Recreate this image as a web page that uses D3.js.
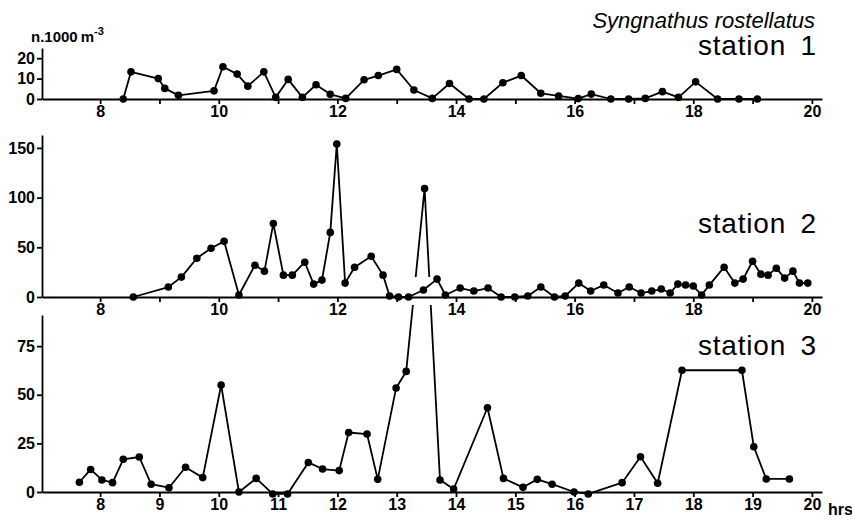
<!DOCTYPE html>
<html>
<head>
<meta charset="utf-8">
<script src="https://cdn.jsdelivr.net/npm/d3@7/dist/d3.min.js"></script>
<style>
  body { margin: 0; background: #fff; }
  svg { display: block; }
  .tick text { font-family: "Liberation Sans", Arial, sans-serif; font-weight: bold; font-size: 16px; fill: #000; }
  .tick line, .domain { stroke: #000; stroke-width: 1.8px; }
  .lbl { font-family: "Liberation Sans", Arial, sans-serif; fill: #000; }
</style>
</head>
<body>
<div id="vis"></div>
<script>
// hours of sampling and catches (n per 1000 m3)
const hours1 = [8.39, 8.52, 8.98, 9.09, 9.32, 9.92, 10.07, 10.31, 10.49, 10.76, 10.96, 11.17, 11.41, 11.64, 11.88, 12.14, 12.45, 12.69, 13.0, 13.29, 13.6, 13.89, 14.22, 14.47, 14.79, 15.1, 15.43, 15.73, 16.06, 16.28, 16.61, 16.91, 17.19, 17.48, 17.75, 18.04, 18.41, 18.77, 19.08];
const values1 = [0, 13.3, 10, 5.2, 1.8, 4, 15.8, 12.2, 6.3, 13.3, 0.8, 9.6, 0.8, 7, 2.3, 0.3, 9.4, 11.5, 14.5, 4.4, 0.3, 7.6, 0, 0, 8, 11.5, 2.8, 1.5, 0.2, 2.4, 0, 0, 0.3, 3.6, 0.8, 8.4, 0, 0, 0];

const hours2 = [8.56, 9.15, 9.37, 9.63, 9.87, 10.09, 10.34, 10.61, 10.77, 10.92, 11.09, 11.24, 11.45, 11.6, 11.74, 11.88, 11.99, 12.13, 12.29, 12.57, 12.77, 12.88, 13.03, 13.2, 13.45, 13.68, 13.82, 14.07, 14.3, 14.54, 14.76, 14.99, 15.21, 15.43, 15.66, 15.84, 16.07, 16.27, 16.49, 16.73, 16.92, 17.12, 17.3, 17.46, 17.61, 17.74, 17.87, 18.0, 18.14, 18.27, 18.52, 18.7, 18.84, 19.0, 19.14, 19.26, 19.4, 19.54, 19.68, 19.79, 19.93];
const values2 = [0, 10, 20, 39, 49, 56, 2, 32, 26, 74, 22, 22, 35, 13, 17, 65, 154, 14, 30, 41, 22, 1, 0, 0, 7, 18, 2, 9, 6, 9, 0, 0, 1, 10, 0, 1, 14, 6, 12, 4, 10, 4, 6, 8, 4, 13, 12, 11, 2, 12, 30, 14, 18, 36, 23, 22, 29, 19, 26, 14, 14];

const hours3 = [7.65, 7.84, 8.03, 8.21, 8.39, 8.66, 8.86, 9.16, 9.44, 9.73, 10.04, 10.34, 10.63, 10.91, 11.16, 11.51, 11.75, 12.03, 12.19, 12.5, 12.68, 12.99, 13.16, 13.47, 13.73, 13.96, 14.53, 14.8, 15.13, 15.37, 15.62, 15.99, 16.23, 16.8, 17.11, 17.4, 17.81, 18.82, 19.02, 19.23, 19.62];
const values3 = [5, 11.6, 6.2, 4.8, 16.8, 18, 4, 2.2, 12.7, 7.4, 55, 0, 7, -1, -1, 15.2, 11.8, 11, 30.6, 29.8, 6.5, 53.5, 62, 156, 6.2, 1.5, 43.3, 7, 2.4, 6.5, 4, 0, -1, 4.8, 18.1, 4.5, 62.6, 62.6, 23.3, 6.7, 6.7];

const hourTicks = [8, 9, 10, 11, 12, 13, 14, 15, 16, 17, 18, 19, 20];
const ticks1 = [0, 10, 20];
const ticks2 = [0, 50, 100, 150];
const ticks3 = [0, 25, 50, 75];

const width = 852, height = 521;

const svg = d3.select("#vis").append("svg")
    .attr("width", width)
    .attr("height", height);

// one clip for station 3 so its spike is broken where it crosses the station 2 axis
const defs = svg.append("defs");
const clip = defs.append("clipPath").attr("id", "gap");
clip.append("rect").attr("x", 0).attr("y", 0).attr("width", width).attr("height", 277);
clip.append("rect").attr("x", 0).attr("y", 305).attr("width", width).attr("height", height - 305);

const x = d3.scaleLinear().domain([7.02, 20.17]).range([42, 822]);

const panels = [
    { hours: hours1, values: values1, y: d3.scaleLinear().domain([0, 25]).range([99, 48]), yt: ticks1, allLabels: false, name: "station 1", nameY: 55 },
    { hours: hours2, values: values2, y: d3.scaleLinear().domain([0, 163]).range([297, 135]), yt: ticks2, allLabels: false, name: "station 2", nameY: 233 },
    { hours: hours3, values: values3, y: d3.scaleLinear().domain([0, 91]).range([492, 315]), yt: ticks3, allLabels: true, name: "station 3", nameY: 355, clip: true }
];

panels.forEach(function (p) {
    let g = svg.append("g");
    let y0 = p.y(0);

    // x axis
    g.append("g")
        .attr("transform", "translate(0," + y0 + ")")
        .call(d3.axisBottom(x).tickValues(hourTicks).tickSizeInner(5).tickSizeOuter(0).tickPadding(2)
            .tickFormat(function (d) { return (p.allLabels || d % 2 === 0) ? d : ""; }));

    // y axis
    g.append("g")
        .attr("transform", "translate(42,0)")
        .call(d3.axisLeft(p.y).tickValues(p.yt).tickSizeInner(5).tickSizeOuter(0).tickPadding(2));

    let line = d3.line()
        .x(function (d, i) { return x(p.hours[i]); })
        .y(function (d) { return p.y(d); });

    let marks = g.append("g");
    if (p.clip) marks.attr("clip-path", "url(#gap)");

    marks.append("path")
        .datum(p.values)
        .attr("fill", "none")
        .attr("stroke", "#000")
        .attr("stroke-width", 1.8)
        .attr("stroke-linejoin", "round")
        .attr("d", line);

    marks.selectAll("circle")
        .data(p.values)
        .enter()
        .append("circle")
        .attr("cx", function (d, i) { return x(p.hours[i]); })
        .attr("cy", function (d) { return p.y(d); })
        .attr("r", 3.8)
        .attr("fill", "#000");

    svg.append("text")
        .attr("class", "lbl")
        .attr("x", 817)
        .attr("y", p.nameY)
        .attr("text-anchor", "end")
        .style("font-size", "28px")
        .style("letter-spacing", "0.8px")
        .style("word-spacing", "6px")
        .text(p.name);
});

// title, units and time label
svg.append("text")
    .attr("class", "lbl")
    .attr("x", 815)
    .attr("y", 28)
    .attr("text-anchor", "end")
    .style("font-size", "22px")
    .style("font-style", "italic")
    .text("Syngnathus rostellatus");

let units = svg.append("text")
    .attr("class", "lbl")
    .attr("x", 31)
    .attr("y", 42)
    .style("font-size", "15px")
    .style("font-weight", "bold");
units.append("tspan").text("n.1000\u2009m");
units.append("tspan").attr("dy", -7).style("font-size", "11px").text("-3");

svg.append("text")
    .attr("class", "lbl")
    .attr("x", 828)
    .attr("y", 515)
    .style("font-size", "16px")
    .style("font-weight", "bold")
    .text("hrs");
</script>
</body>
</html>
